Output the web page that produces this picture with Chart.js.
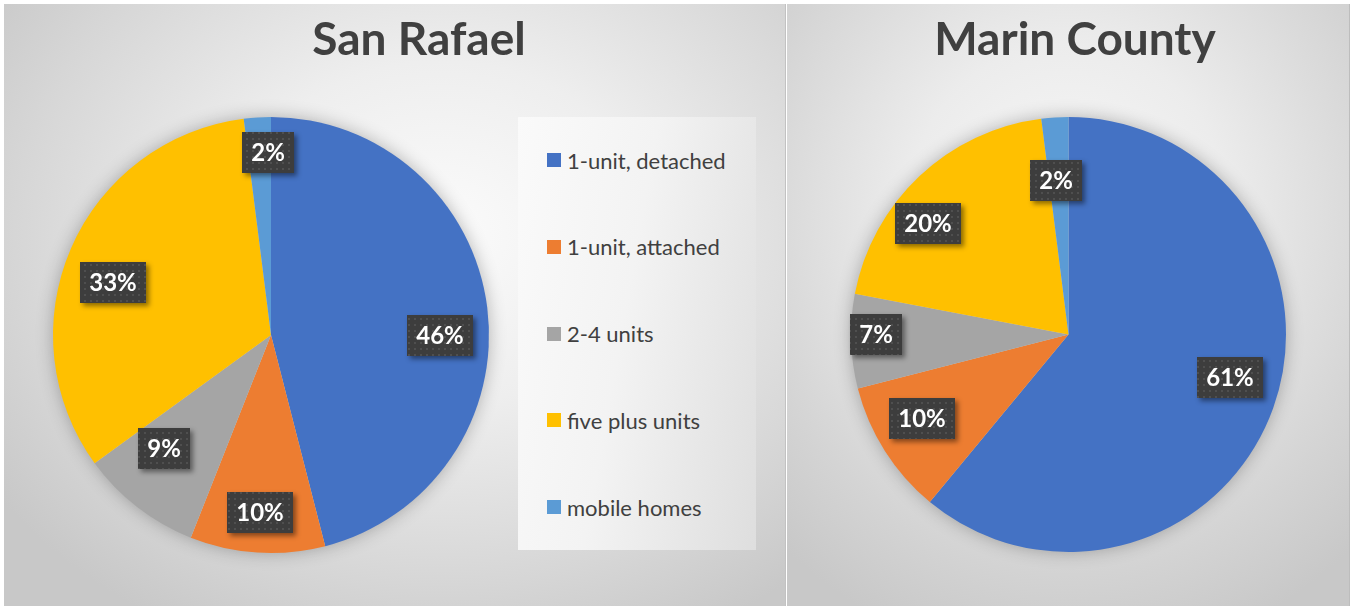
<!DOCTYPE html>
<html>
<head>
<meta charset="utf-8">
<script src="https://cdn.jsdelivr.net/npm/chart.js@4.4.1/dist/chart.umd.min.js"></script>
<style>
  html, body { margin: 0; padding: 0; background: #fff; }
  body { width: 1352px; height: 609px; position: relative; overflow: hidden; font-family: Lato, "Open Sans", sans-serif; }
  .panel { position: absolute; top: 4px; height: 602px; overflow: hidden; }
  #panelLeft {
    left: 4px; width: 781px;
    background: radial-gradient(ellipse 70% 75% at 56% 38%, #fbfbfb 0%, #eeeeee 38%, #d6d6d6 78%, #c8c8c8 100%);
    border-right: 1px solid #c2c2c2;
  }
  #panelRight {
    left: 787px; width: 562px;
    background: radial-gradient(ellipse 75% 75% at 50% 35%, #f8f8f8 0%, #ececec 38%, #d4d4d4 78%, #c8c8c8 100%);
    border-right: 1px solid #bdbdbd;
  }
  .panel canvas { position: absolute; left: 0; top: 0; }
  .title {
    position: absolute; top: 11px; transform: translateX(-50%);
    font-size: 46px; line-height: 46px; font-weight: 700; color: #404040; white-space: nowrap;
  }
  .legend {
    position: absolute; left: 514px; top: 113px; width: 238px; height: 433px;
    background: linear-gradient(100deg, #fafafa 0%, #f3f3f3 45%, #dedede 100%);
  }
  .legend .item { position: absolute; left: 29px; height: 24px; display: flex; align-items: center; }
  .legend .swatch { width: 14px; height: 14px; margin-right: 6px; }
  .legend .text { font-size: 22px; color: #404040; white-space: nowrap; }
</style>
</head>
<body>
<div class="panel" id="panelLeft">
  <canvas id="sanRafaelPie" width="781" height="602"></canvas>
  <div class="title" style="left: 415px;">San Rafael</div>
  <div class="legend" id="legendLeft"></div>
</div>
<div class="panel" id="panelRight">
  <canvas id="marinPie" width="562" height="602"></canvas>
  <div class="title" style="left: 288px;">Marin County</div>
</div>

<script>
// Housing types, share of units (%)
const categories = ['1-unit, detached', '1-unit, attached', '2-4 units', 'five plus units', 'mobile homes'];
const sanRafaelShares = [46, 10, 9, 33, 2];
const marinShares = [61, 10, 7, 20, 2];
const sliceColors = ['#4472C4', '#ED7D31', '#A5A5A5', '#FFC000', '#5B9BD5'];

// label anchor tweaks ("best fit" look): [fraction of radius, angle shift in degrees]
const sanRafaelLabelFit = [[0.775, 7.5], [0.817, 0], [0.716, 5.4], [0.766, -4.9], [0.835, 2.6]];
const marinLabelFit = [[0.768, -4.8], [0.777, 2.4], [0.883, 1.8], [0.823, -8.4], [0.708, -0.9]];

// small dotted fill used behind the percentage labels
function makeDotPattern(ctx) {
  const tile = document.createElement('canvas');
  tile.width = 6;
  tile.height = 6;
  const t = tile.getContext('2d');
  t.fillStyle = '#3d3d3d';
  t.fillRect(0, 0, 6, 6);
  t.fillStyle = '#4f4f4f';
  t.fillRect(2, 2, 2, 2);
  return ctx.createPattern(tile, 'repeat');
}

// soft glow behind the pie
const pieShadow = {
  id: 'pieShadow',
  beforeDatasetsDraw(chart) {
    const arc = chart.getDatasetMeta(0).data[0];
    if (!arc) return;
    const ctx = chart.ctx;
    ctx.save();
    ctx.shadowColor = 'rgba(0,0,0,0.3)';
    ctx.shadowBlur = 18;
    ctx.fillStyle = '#d0d0d0';
    ctx.beginPath();
    ctx.arc(arc.x, arc.y, arc.outerRadius - 1, 0, Math.PI * 2);
    ctx.fill();
    ctx.restore();
  }
};

// dark boxed percentage labels inside each slice
const valueLabels = {
  id: 'valueLabels',
  afterDatasetsDraw(chart, args, opts) {
    const ctx = chart.ctx;
    const values = chart.data.datasets[0].data;
    const total = values.reduce((a, b) => a + b, 0);
    const fit = opts.fit || [];
    const pattern = makeDotPattern(ctx);
    ctx.save();
    ctx.font = 'bold 24px Lato, "Open Sans", sans-serif';
    ctx.textAlign = 'center';
    ctx.textBaseline = 'middle';
    chart.getDatasetMeta(0).data.forEach((arc, i) => {
      const [frac, shift] = fit[i] || [0.8, 0];
      const mid = (arc.startAngle + arc.endAngle) / 2 + shift * Math.PI / 180;
      const r = arc.outerRadius * frac;
      const cx = arc.x + Math.cos(mid) * r;
      const cy = arc.y + Math.sin(mid) * r;
      const text = Math.round(values[i] / total * 100) + '%';
      const w = Math.round(ctx.measureText(text).width + 18);
      const h = 41;
      const x0 = Math.round(cx - w / 2), y0 = Math.round(cy - h / 2);

      ctx.shadowColor = 'rgba(0,0,0,0.45)';
      ctx.shadowBlur = 5;
      ctx.shadowOffsetX = 3;
      ctx.shadowOffsetY = 3;
      ctx.fillStyle = '#3d3d3d';
      ctx.fillRect(x0, y0, w, h);
      ctx.shadowColor = 'transparent';
      ctx.fillStyle = pattern;
      ctx.fillRect(x0, y0, w, h);

      ctx.fillStyle = '#ffffff';
      ctx.fillText(text, x0 + w / 2, y0 + h / 2 + 1);
    });
    ctx.restore();
  }
};

function drawPie(canvasId, shares, padding, labelFit) {
  const ctx = document.getElementById(canvasId).getContext('2d');
  return new Chart(ctx, {
    type: 'pie',
    data: {
      labels: categories,
      datasets: [{
        data: shares,
        backgroundColor: sliceColors,
        borderWidth: 0
      }]
    },
    options: {
      responsive: false,
      animation: false,
      layout: { padding: padding },
      plugins: {
        legend: { display: false },
        tooltip: { enabled: false },
        valueLabels: { fit: labelFit }
      }
    },
    plugins: [pieShadow, valueLabels]
  });
}

drawPie('sanRafaelPie', sanRafaelShares, { left: 49, right: 296, top: 113, bottom: 53 }, sanRafaelLabelFit);
drawPie('marinPie', marinShares, { left: 64, right: 63, top: 113, bottom: 54 }, marinLabelFit);

// legend for the left chart
const legendEl = document.getElementById('legendLeft');
categories.forEach((name, i) => {
  const item = document.createElement('div');
  item.className = 'item';
  item.style.top = (43 + i * 86.75 - 12) + 'px';
  item.innerHTML = '<span class="swatch" style="background:' + sliceColors[i] + '"></span>' +
    '<span class="text">' + name + '</span>';
  legendEl.appendChild(item);
});
</script>
</body>
</html>
